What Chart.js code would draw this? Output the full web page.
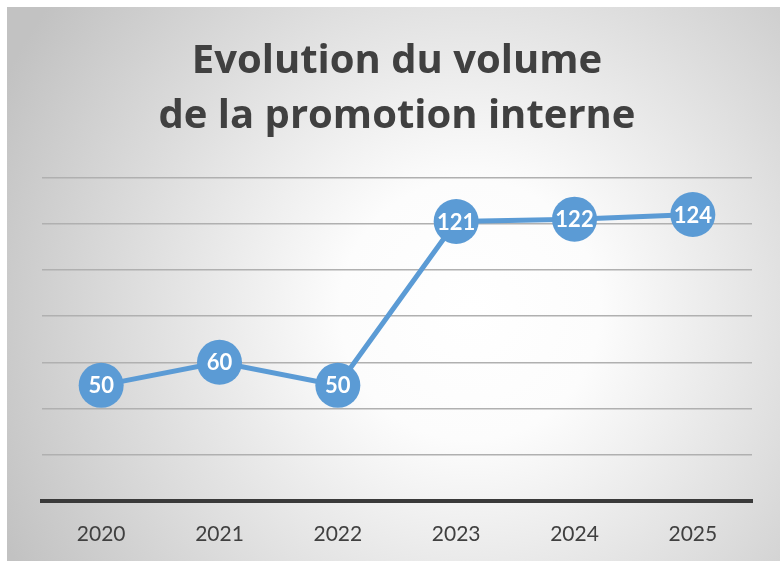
<!DOCTYPE html>
<html>
<head>
<meta charset="utf-8">
<script src="https://cdn.jsdelivr.net/npm/chart.js@4/dist/chart.umd.min.js"></script>
<style>
  body { margin: 0; background: #fff; }
  #wrap { width: 780px; height: 561px; position: relative; }
</style>
</head>
<body>
<div id="wrap"><canvas id="myChart" width="780" height="561"></canvas></div>
<script>
// data
var years = ['2020', '2021', '2022', '2023', '2024', '2025'];
var volumes = [50, 60, 50, 121, 122, 124];
var titleLines = ['Evolution du volume', 'de la promotion interne'];

// gray radial background like the office chart
var bgPlugin = {
  id: 'bg',
  beforeDraw: function(chart) {
    var ctx = chart.ctx;
    ctx.save();
    var g = ctx.createRadialGradient(470, 310, 0, 470, 310, 520);
    g.addColorStop(0, '#ffffff');
    g.addColorStop(0.25, '#fcfcfc');
    g.addColorStop(1, '#c2c2c2');
    ctx.fillStyle = g;
    ctx.fillRect(7, 7, 773, 554);
    ctx.restore();
  }
};

// white numbers inside the points
var labelPlugin = {
  id: 'valueLabels',
  afterDatasetsDraw: function(chart) {
    var ctx = chart.ctx;
    var meta = chart.getDatasetMeta(0);
    ctx.save();
    ctx.fillStyle = '#ffffff';
    ctx.font = 'bold 22px Lato';
    ctx.textAlign = 'center';
    ctx.textBaseline = 'middle';
    meta.data.forEach(function(pt, i) {
      ctx.fillText(chart.data.datasets[0].data[i], pt.x, pt.y + 1);
    });
    ctx.restore();
  }
};

var ctx = document.getElementById('myChart').getContext('2d');
var myChart = new Chart(ctx, {
  type: 'line',
  data: {
    labels: years,
    datasets: [{
      data: volumes,
      borderColor: '#5b9bd5',
      borderWidth: 5,
      backgroundColor: '#5b9bd5',
      pointBackgroundColor: '#5b9bd5',
      pointBorderColor: '#5b9bd5',
      pointRadius: 22.5,
      pointBorderWidth: 0,
      tension: 0,
      clip: false
    }]
  },
  options: {
    responsive: false,
    animation: false,
    layout: { autoPadding: false, padding: { top: 7, left: 42, right: 28, bottom: -7 } },
    plugins: {
      legend: { display: false },
      tooltip: { enabled: false },
      title: {
        display: true,
        text: titleLines,
        color: '#404040',
        font: { family: 'Open Sans', size: 40, weight: 'bold', lineHeight: 1.37 },
        padding: { top: 27, bottom: 34 }
      }
    },
    scales: {
      x: {
        offset: true,
        grid: { display: false, drawTicks: false },
        border: { display: true, color: '#3a3a3a', width: 4 },
        ticks: { color: '#404040', padding: 21, font: { family: 'Lato', size: 21 } }
      },
      y: {
        min: 0,
        max: 140,
        ticks: { display: false, stepSize: 20 },
        grid: { color: '#b0b0b0', lineWidth: 1.5, drawTicks: false },
        border: { display: false }
      }
    }
  },
  plugins: [bgPlugin, labelPlugin]
});
</script>
</body>
</html>
